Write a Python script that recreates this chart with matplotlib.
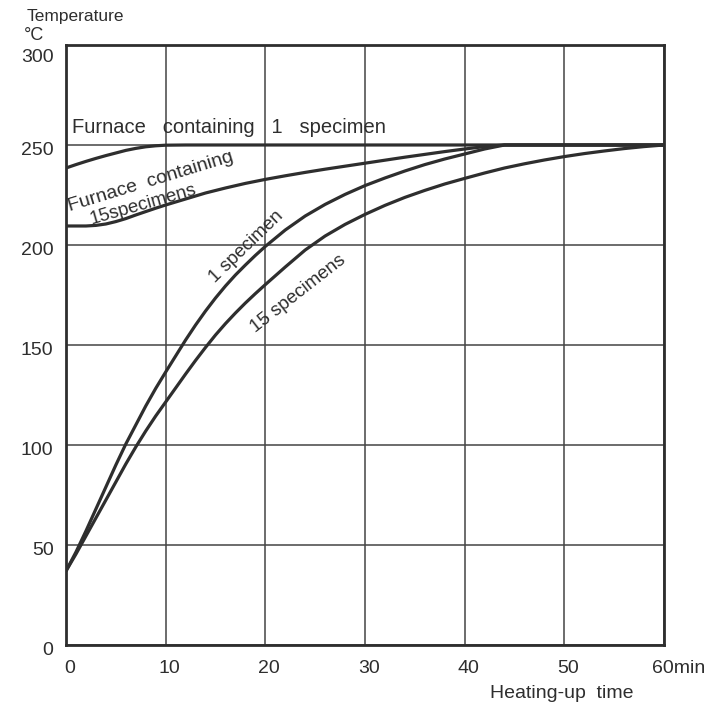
#!/usr/bin/env python3
import matplotlib
matplotlib.use('Agg')
import matplotlib.pyplot as plt
from matplotlib.transforms import ScaledTranslation

# readings from the chart (time in min, temperature in degC)
t_furnace_1 = [0, 1, 2, 3, 4, 5, 6, 7, 8, 9, 10, 12, 60]
T_furnace_1 = [238.5, 240.2, 241.8, 243.3, 244.7, 246, 247.3, 248.3, 249.1, 249.6, 249.9, 250, 250]

t_furnace_15 = [0, 2, 3, 4, 5, 6, 7, 8, 9, 10, 12, 14, 16, 18, 20, 22, 24, 26, 28,
                30, 32, 34, 36, 38, 40, 42, 44, 60]
T_furnace_15 = [209.5, 209.5, 209.8, 210.5, 211.7, 213.2, 215, 216.7, 218.4, 220, 223, 226,
                228.5, 230.8, 232.8, 234.6, 236.3, 237.9, 239.4, 240.9, 242.4, 243.9,
                245.3, 246.7, 248, 249.2, 250, 250]

t_spec_1 = [0, 1, 2, 3, 4, 5, 6, 7, 8, 9, 10, 11, 12, 13, 14, 15, 16, 17, 18, 19, 20,
            22, 24, 26, 28, 30, 32, 34, 36, 38, 40, 42, 44, 60]
T_spec_1 = [37, 46.5, 57, 68, 79, 90, 100.5, 110, 119.5, 128.3, 136.5, 144.5, 152.5, 160,
            167, 173.5, 179.5, 185, 190, 194.8, 199.3, 207.5, 214.5, 220.3, 225.3, 229.7,
            233.5, 237, 240.2, 243, 245.5, 248, 250, 250]

t_spec_15 = [0, 1, 2, 3, 4, 5, 6, 7, 8, 9, 10, 11, 12, 13, 14, 15, 16, 17, 18, 19, 20,
             22, 24, 26, 28, 30, 32, 34, 36, 38, 40, 42, 44, 46, 48, 50, 52, 54, 56, 58, 60]
T_spec_15 = [37, 45.5, 54.5, 63.5, 72.5, 81.5, 90.5, 99, 107, 114.5, 121.5, 128.5, 135.5,
             142.3, 148.8, 155, 160.7, 166, 171, 175.7, 180.2, 189, 197.5, 204.5, 210.3,
             215.3, 219.8, 223.8, 227.3, 230.5, 233.3, 236, 238.5, 240.6, 242.5, 244.2,
             245.7, 247, 248.2, 249.2, 250]

x_ticks = [0, 10, 20, 30, 40, 50, 60]
x_labels = ['0', '10', '20', '30', '40', '50', '60min']
y_ticks = [0, 50, 100, 150, 200, 250, 300]

plt.rcParams['font.family'] = ['Liberation Sans', 'DejaVu Sans']
ink = '#2e2e2e'

fig = plt.figure(figsize=(7.13, 7.13), dpi=100)
ax = fig.add_axes([0.0926, 0.0954, 0.8387, 0.8415])

for t, T in [(t_furnace_1, T_furnace_1), (t_furnace_15, T_furnace_15),
             (t_spec_1, T_spec_1), (t_spec_15, T_spec_15)]:
    ax.plot(t, T, color=ink, lw=2.3, solid_capstyle='round', solid_joinstyle='round')

ax.set_xlim(0, 60)
ax.set_ylim(0, 300)
ax.set_xticks(x_ticks)
ax.set_xticklabels(x_labels)
ax.set_yticks(y_ticks)
ax.grid(True, color='#444444', lw=1.1)
ax.set_axisbelow(True)
ax.tick_params(length=0, labelsize=14, colors=ink)
ax.tick_params(axis='y', pad=9)
ax.tick_params(axis='x', pad=11)
for s in ax.spines.values():
    s.set_color(ink)
    s.set_linewidth(2.0)

# "60min" starts a little left of the last grid line
for lab in ax.get_xticklabels():
    if lab.get_text() == '60min':
        lab.set_horizontalalignment('left')
        lab.set_transform(lab.get_transform() + ScaledTranslation(-0.12, 0, fig.dpi_scale_trans))
    else:
        lab.set_transform(lab.get_transform() + ScaledTranslation(0.04, 0, fig.dpi_scale_trans))

# y labels sit a bit under their lines, 300 clearly inside the frame
for lab in ax.get_yticklabels():
    dy = -0.11 if lab.get_text() == '300' else -0.04
    lab.set_transform(lab.get_transform() + ScaledTranslation(0, dy, fig.dpi_scale_trans))

ax.text(0.6, 256, 'Furnace   containing   1   specimen', fontsize=14.5, color=ink,
        va='baseline')
ax.text(0.35, 217, 'Furnace  containing', fontsize=14, color=ink, rotation=17,
        rotation_mode='anchor', va='baseline', ha='left')
ax.text(2.6, 210.5, '15specimens', fontsize=13.5, color=ink, rotation=16,
        rotation_mode='anchor', va='baseline', ha='left')
ax.text(15.0, 181, '1 specimen', fontsize=13.5, color=ink, rotation=44,
        rotation_mode='anchor', va='baseline', ha='left')
ax.text(19.0, 156, '15 specimens', fontsize=13.5, color=ink, rotation=38,
        rotation_mode='anchor', va='baseline', ha='left')

fig.text(0.038, 0.977, 'Temperature', fontsize=12.5, color=ink, va='center')
fig.text(0.034, 0.950, '°C', fontsize=13, color=ink, va='center')
fig.text(0.687, 0.027, 'Heating-up  time', fontsize=14, color=ink, va='center')

fig.savefig('out.png', dpi=100, facecolor='white')
